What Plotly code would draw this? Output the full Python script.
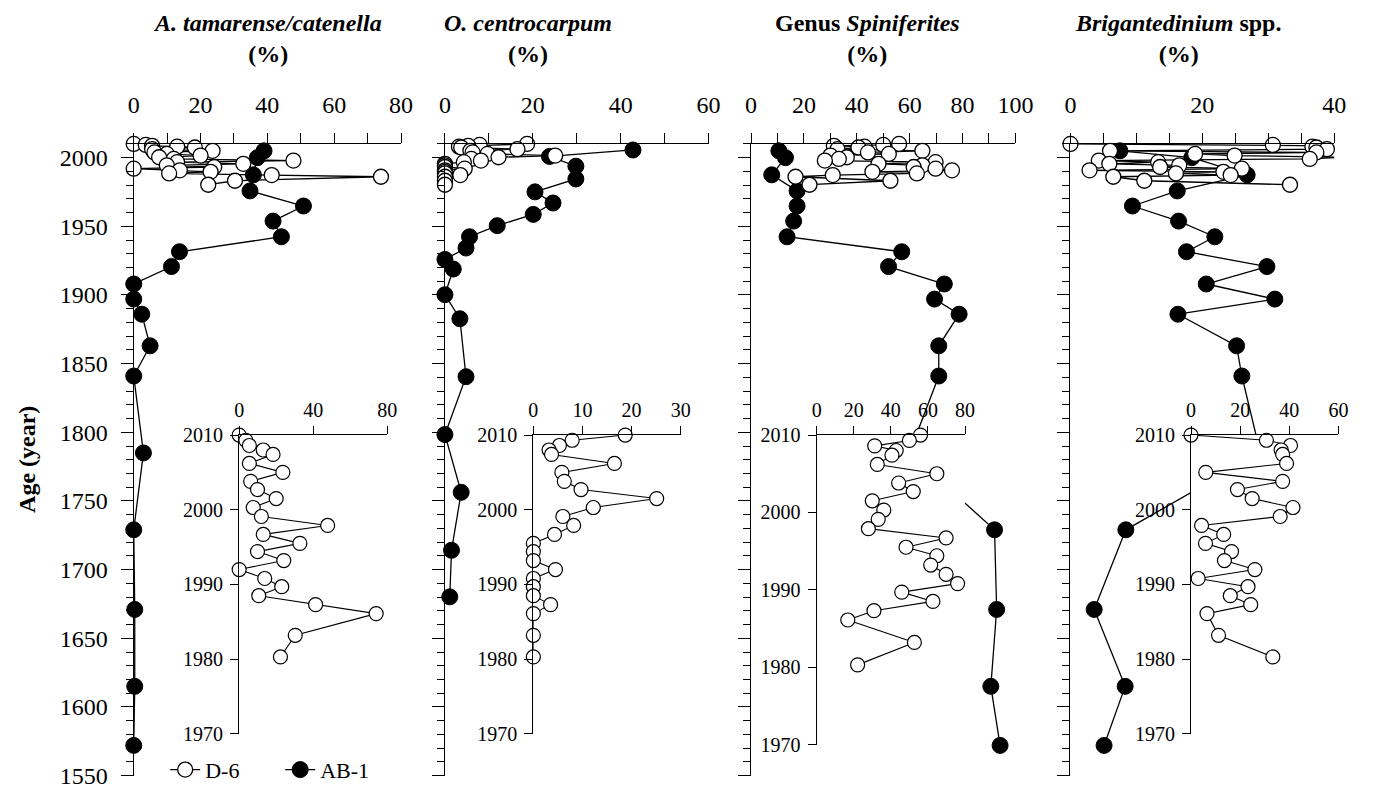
import plotly.graph_objects as go

W, H = 1379, 809

# ---------------- data ----------------
# D-6 core (1980-2010), shown in main panels and in the insets
D6_YEARS = [2010.0, 2009.3, 2008.6, 2008.0, 2007.4, 2006.2, 2005.0, 2003.8, 2002.7, 2001.5,
            2000.3, 1999.1, 1997.9, 1996.7, 1995.5, 1994.4, 1993.2, 1992.0, 1990.8, 1989.7,
            1988.5, 1987.3, 1986.1, 1983.2, 1980.3]
D6_ATC = [0, 3.6, 5.5, 13, 18.3, 5.5, 23.6, 6.2, 9.9, 20, 7.6, 12, 47.8, 13, 32.8, 9.9,
          24.1, 0, 13.8, 23, 10.6, 41.3, 74, 30.3, 22.3]
D6_OC = [18.7, 7.9, 5.3, 3.2, 3.7, 16.5, 5.8, 6.3, 9.7, 25.1, 12.2, 6, 8.2, 4.3, 0, 0, 0,
         4.5, 0, 0, 0, 3.5, 0, 0, 0]
D6_SPI = [56, 50, 31.3, 42.9, 40.6, 32.7, 64.8, 44.2, 52.1, 30, 36.2, 33.2, 27.9, 69.8, 48.2,
          64.8, 61.5, 69.8, 76, 45.9, 62.7, 30.9, 16.8, 52.7, 22.1]
D6_BRI = [0, 30.7, 40.5, 36.7, 37.3, 38.9, 6, 37.3, 18.9, 24.9, 41.5, 36.3, 4.3, 13.3, 5.9,
          16.5, 13.6, 26, 2.9, 23.2, 16, 24.3, 6.5, 11.2, 33.3]

# AB-1 core
AB1_YEARS = [2005.0, 2000.0, 1987.5, 1975.8, 1964.8, 1953.8, 1942.4, 1931.5, 1920.7, 1908.0,
             1897.0, 1886.0, 1863.0, 1841.0, 1785.0, 1729.0, 1671.0, 1615.0, 1572.0]
AB1_ATC = [39, 37, 35.8, 34.8, 50.8, 41.7, 44.2, 13.7, 11.3, 0, 0, 2.4, 4.9, 0, 2.9, 0, 0.3, 0.3, 0]
AB1_SPI = [10.5, 13, 7.8, 17.4, 17.4, 16.1, 13.6, 57, 52, 73.1, 69.4, 78.7, 71, 71, 59.9,
           92.1, 92.9, 90.7, 94.2]
AB1_BRI = [7.5, 18.4, 26.8, 16.2, 9.4, 16.4, 21.9, 17.6, 29.8, 20.6, 31, 16.3, 25.2, 26, 28.8,
           8.4, 3.6, 8.3, 5.1]
AB1_OC_YEARS = [2005.6, 2000.9, 1993.8, 1984.5, 1975.1, 1967.0, 1958.7, 1950.5, 1942.4, 1934.2,
                1925.9, 1918.9, 1900.2, 1882.7, 1840.5, 1798.4, 1756.3, 1714.1, 1680.2]
AB1_OC = [42.8, 23.8, 29.8, 29.8, 20.5, 24.6, 20.1, 11.9, 5.6, 4.8, 0, 1.9, 0, 3.4, 4.8, 0,
          3.7, 1.5, 1.1]

TITLES = ["<b><i>A. tamarense/catenella</i></b><br><b>(%)</b>",
          "<b><i>O. centrocarpum</i></b><br><b>(%)</b>",
          "<b>Genus <i>Spiniferites</i></b><br><b>(%)</b>",
          "<b><i>Brigantedinium</i> spp.</b><br><b>(%)</b>"]
MAIN_XMAX = [80, 60, 100, 40]
MAIN_XMINOR = [10, 10, 10, 5]
INSET_XMAX = [80, 30, 80, 60]
INSET_DTICK = [40, 10, 20, 20]

# ---------------- layout geometry (pixels) ----------------
MAIN_X = [(130, 402), (446.7, 715), (758.3, 1027.3), (1083.3, 1351.7)]
MAIN_TOP, MAIN_BOT = 137, 788
INSET_X = [(237.3, 388), (536.7, 686.7), (825, 976), (1206, 1356)]
INSET_Y = [(437, 745), (437, 745), (437, 756), (437, 745)]
TITLE_X = [266, 531, 877, 1193]

FONT = "Liberation Serif, Times New Roman, serif"


def dx(a, b):
    return [a / W, b / W]


def dy(top, bot):
    return [1 - bot / H, 1 - top / H]


fig = go.Figure()

line_w = 1.3
d6_vals = [D6_ATC, D6_OC, D6_SPI, D6_BRI]
ab_vals = [AB1_ATC, AB1_OC, AB1_SPI, AB1_BRI]
ab_years = [AB1_YEARS, AB1_OC_YEARS, AB1_YEARS, AB1_YEARS]

# main panels: axes 1..4
for i in range(4):
    n = i + 1
    xa = "x" if n == 1 else f"x{n}"
    ya = "y" if n == 1 else f"y{n}"
    fig.add_trace(go.Scatter(
        x=ab_vals[i], y=ab_years[i], xaxis=xa, yaxis=ya, mode="lines+markers",
        line=dict(color="black", width=line_w),
        marker=dict(size=16, color="black", line=dict(color="black", width=1)),
        name="AB-1", legendgroup="ab", showlegend=(i == 0), legendrank=2,
        cliponaxis=False, hoverinfo="skip"))
    fig.add_trace(go.Scatter(
        x=d6_vals[i], y=D6_YEARS, xaxis=xa, yaxis=ya, mode="lines+markers",
        line=dict(color="black", width=line_w),
        marker=dict(size=15, color="white", line=dict(color="black", width=1.3)),
        name="D-6", legendgroup="d6", showlegend=(i == 0), legendrank=1,
        cliponaxis=False, hoverinfo="skip"))

# insets: axes 5..8
for i in range(4):
    n = i + 5
    fig.add_trace(go.Scatter(
        x=d6_vals[i], y=D6_YEARS, xaxis=f"x{n}", yaxis=f"y{n}", mode="lines+markers",
        line=dict(color="black", width=1.1),
        marker=dict(size=14, color="white", line=dict(color="black", width=1.2)),
        name="D-6", legendgroup="d6", showlegend=False,
        cliponaxis=False, hoverinfo="skip"))

layout = dict(
    width=W, height=H, margin=dict(l=0, r=0, t=0, b=0),
    paper_bgcolor="white", plot_bgcolor="white",
    font=dict(family=FONT, color="black", size=20),
    showlegend=True,
    legend=dict(orientation="h", x=162 / W, y=1 - 782 / H, xanchor="left", yanchor="middle",
                font=dict(family=FONT, size=22, color="black"), bgcolor="rgba(0,0,0,0)",
                itemsizing="trace", tracegroupgap=0, entrywidth=70),
)

common_axis = dict(showgrid=False, zeroline=False, showline=True, linecolor="black",
                   linewidth=line_w, ticks="outside", tickcolor="black", tickwidth=line_w)

for i in range(4):
    n = i + 1
    xk = "xaxis" if n == 1 else f"xaxis{n}"
    yk = "yaxis" if n == 1 else f"yaxis{n}"
    ya = "y" if n == 1 else f"y{n}"
    xa = "x" if n == 1 else f"x{n}"
    layout[xk] = dict(common_axis, domain=dx(*MAIN_X[i]), range=[0, MAIN_XMAX[i]], side="top",
                      anchor=ya, tickmode="linear", tick0=0, dtick=20, ticklen=10,
                      ticklabelstandoff=10,
                      tickfont=dict(family=FONT, size=24),
                      minor=dict(dtick=MAIN_XMINOR[i], tick0=0, ticks="outside", ticklen=10,
                                 tickcolor="black", tickwidth=line_w, showgrid=False))
    layout[yk] = dict(common_axis, domain=dy(MAIN_TOP, MAIN_BOT), range=[1550, 2010],
                      anchor=xa, tickmode="linear", tick0=1550, dtick=50, ticklen=12,
                      showticklabels=(i == 0), ticklabelstandoff=8,
                      tickfont=dict(family=FONT, size=24),
                      minor=dict(dtick=10, tick0=1550, ticks="outside", ticklen=7,
                                 tickcolor="black", tickwidth=line_w, showgrid=False))

for i in range(4):
    n = i + 5
    top, bot = INSET_Y[i]
    layout[f"xaxis{n}"] = dict(common_axis, domain=dx(*INSET_X[i]), range=[0, INSET_XMAX[i]],
                               side="top", anchor=f"y{n}", tickmode="linear", tick0=0,
                               dtick=INSET_DTICK[i], ticklen=8, ticklabelstandoff=1,
                               linewidth=1.1, tickwidth=1.1,
                               tickfont=dict(family=FONT, size=20))
    layout[f"yaxis{n}"] = dict(common_axis, domain=dy(top, bot), range=[1970, 2010],
                               anchor=f"x{n}", tickmode="linear", tick0=1970, dtick=10,
                               ticklen=8, ticklabelstandoff=3, linewidth=1.1, tickwidth=1.1,
                               tickfont=dict(family=FONT, size=20))

annotations = []
for i in range(4):
    annotations.append(dict(text=TITLES[i], x=TITLE_X[i] / W, y=1 - 28 / H, xref="paper",
                            yref="paper", xanchor="center", yanchor="middle", showarrow=False,
                            font=dict(family=FONT, size=24, color="black"), align="center"))
annotations.append(dict(text="<b>Age (year)</b>", x=22 / W, y=1 - 462 / H, xref="paper",
                        yref="paper", textangle=-90, xanchor="center", yanchor="middle",
                        showarrow=False, font=dict(family=FONT, size=24, color="black")))
layout["annotations"] = annotations

fig.update_layout(**layout)
fig.write_html("out.html")
